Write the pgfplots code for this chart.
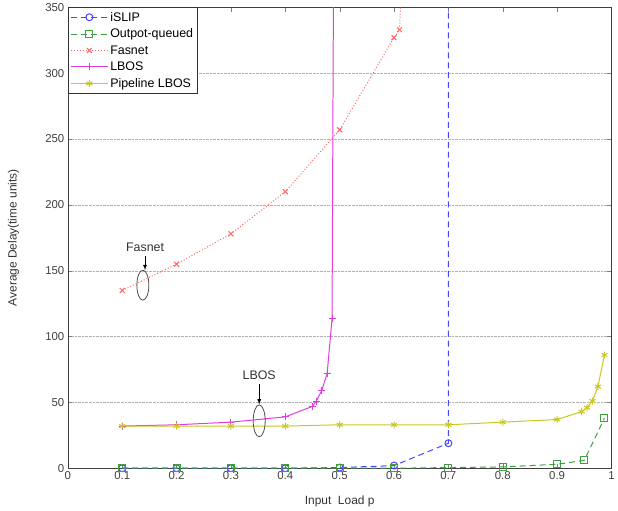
\documentclass[border=0pt]{standalone}
\usepackage{fontspec}
\setmainfont{Liberation Sans}
\usepackage{pgfplots}
\pgfplotsset{compat=1.18}
\definecolor{cislip}{RGB}{70,70,255}
\definecolor{coq}{RGB}{60,160,60}
\definecolor{cfas}{RGB}{255,100,100}
\definecolor{clbos}{RGB}{225,60,225}
\definecolor{cpipe}{RGB}{200,200,30}
\begin{document}
\begin{tikzpicture}
\begin{axis}[
  at={(0,0)}, anchor=south west,
  scale only axis, width=545bp, height=462bp,
  xmin=0, xmax=1, ymin=0, ymax=350,
  xtick={0,0.1,...,1}, ytick={0,50,...,350},
  xticklabels={0,0.1,0.2,0.3,0.4,0.5,0.6,0.7,0.8,0.9,1},
  tick align=inside, tick pos=both,
  ymajorgrids, grid style={densely dotted, gray!60},
  /pgf/number format/assume math mode=true,
  tick label style={font=\fontsize{11.5}{13}\selectfont, text=black!75},
  label style={font=\fontsize{12}{14}\selectfont, text=black!80},
  xlabel={Input\ \ Load p},
  ylabel={Average Delay(time units)},
  xlabel style={at={(axis description cs:0.5,-0.052)}, anchor=north},
  ylabel style={at={(axis description cs:-0.083,0.5)}, anchor=south},
  axis line style={black!75},
  legend cell align=left,
  legend style={at={(0,1)}, anchor=north west, draw=black!80,
    font=\fontsize{12.5}{15}\selectfont, row sep=2.3pt, inner sep=2.5pt},
  legend image code/.code={
    \draw[#1,mark=none] (0cm,0cm) -- (1.3cm,0cm);
    \draw[#1,only marks] plot coordinates {(0.65cm,0cm)};},
  mark size=3.5pt,
]
\addplot[cislip, dash pattern=on 6pt off 4pt, line width=1pt, mark=o, mark options={solid}] coordinates {
  (0.1,0) (0.2,0) (0.3,0) (0.4,0) (0.5,0.5) (0.6,2) (0.7,19) (0.7,800)
};
\addlegendentry{iSLIP}
\addplot[coq, dash pattern=on 6pt off 4pt, line width=1pt, mark=square, mark options={solid}] coordinates {
  (0.1,0) (0.2,0) (0.3,0) (0.4,0) (0.5,0) (0.6,0) (0.7,0.5) (0.8,1) (0.9,3) (0.95,6) (0.987,38)
};
\addlegendentry{Outpot-queued}
\addplot[cfas, dotted, line width=1pt, mark=x, mark options={solid}] coordinates {
  (0.1,135) (0.2,155) (0.3,178) (0.4,210) (0.5,257) (0.6,327) (0.61,333) (0.62,420)
};
\addlegendentry{Fasnet}
\addplot[clbos, line width=1pt, mark=+] coordinates {
  (0.1,32) (0.2,33) (0.3,35) (0.4,39) (0.45,47) (0.457,51) (0.467,59) (0.477,72) (0.486,114) (0.49,500)
};
\addlegendentry{LBOS}
\addplot[cpipe, line width=1pt, mark=asterisk] coordinates {
  (0.1,32) (0.2,32) (0.3,32) (0.4,32) (0.5,33) (0.6,33) (0.7,33) (0.8,35) (0.9,37) (0.945,43) (0.955,46) (0.965,51) (0.975,62) (0.987,86)
};
\addlegendentry{Pipeline LBOS}
% annotations
\draw[black!70, line width=0.8pt] (axis cs:0.138,139) ellipse (6bp and 15bp);
\node[font=\fontsize{12.5}{14}\selectfont, text=black!80] at (axis cs:0.142,168) {Fasnet};
\draw[-latex, black, line width=0.8pt] (axis cs:0.142,161) -- (axis cs:0.142,150.5);
\draw[black!70, line width=0.8pt] (axis cs:0.352,36) ellipse (6bp and 16bp);
\node[font=\fontsize{12.5}{14}\selectfont, text=black!80] at (axis cs:0.352,71) {LBOS};
\draw[-latex, black, line width=0.8pt] (axis cs:0.352,64) -- (axis cs:0.352,48.5);
\end{axis}
\path[use as bounding box] (-68bp,-42bp) rectangle (550bp,466bp);
\end{tikzpicture}
\end{document}
